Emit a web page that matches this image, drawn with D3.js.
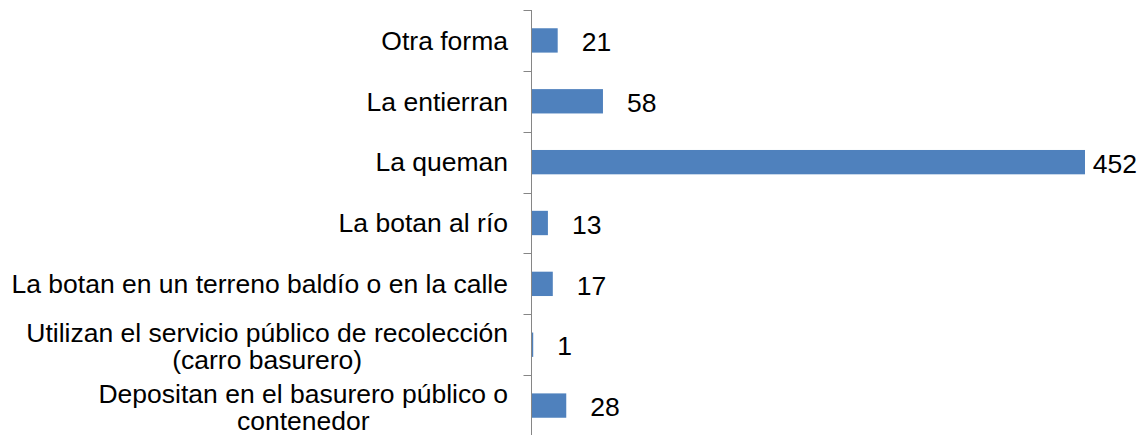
<!DOCTYPE html>
<html>
<head>
<meta charset="utf-8">
<script src="https://cdn.jsdelivr.net/npm/d3@7"></script>
<style>
  html, body { margin: 0; padding: 0; background: #fff; }
  svg { display: block; font-family: "Liberation Sans", Arial, sans-serif; }
</style>
</head>
<body>
<svg id="chart" width="1145" height="435"></svg>
<script>
// Waste disposal method, households (top to bottom)
const categories = [
  "Otra forma",
  "La entierran",
  "La queman",
  "La botan al río",
  "La botan en un terreno baldío o en la calle",
  "Utilizan el servicio público de recolección\n(carro basurero)",
  "Depositan en el basurero público o\ncontenedor"
];
const values = [21, 58, 452, 13, 17, 1, 28];

const W = 1145, H = 435;
const axisX = 531.5;
const labelRight = 508;
const fontSize = 26.5;

const svg = d3.select("#chart");

const y = d3.scaleBand()
  .domain(categories)
  .range([10, 436])
  .paddingInner(0.6)
  .paddingOuter(0.3);

const x = d3.scaleLinear()
  .domain([0, 452])
  .range([532, 1085]);

const step = y.step();

// bars
svg.append("g").selectAll("rect")
  .data(categories)
  .join("rect")
  .attr("x", x(0))
  .attr("y", d => y(d))
  .attr("width", (d, i) => Math.max(1, x(values[i]) - x(0)))
  .attr("height", y.bandwidth())
  .attr("fill", "#4F81BD");

// vertical axis with ticks on category boundaries
const axis = svg.append("g").attr("stroke", "#868686").attr("stroke-width", 1);
axis.append("line")
  .attr("x1", axisX).attr("x2", axisX)
  .attr("y1", y.range()[0]).attr("y2", y.range()[1]);
const bounds = categories.map(c => y(c) - (step - y.bandwidth()) / 2);
bounds.push(y.range()[1]);
axis.selectAll("line.tick")
  .data(bounds)
  .join("line")
  .attr("class", "tick")
  .attr("x1", axisX - 8).attr("x2", axisX)
  .attr("y1", d => Math.round(d) + 0.5).attr("y2", d => Math.round(d) + 0.5);

// category labels: wrapped lines centred within a right-aligned block
const lineH = 27;
categories.forEach(c => {
  const lines = c.split("\n");
  const cy = y(c) + y.bandwidth() / 2;
  const g = svg.append("g");
  const texts = lines.map((ln, j) => g.append("text")
    .attr("y", cy + (j - (lines.length - 1) / 2) * lineH + (lines.length > 1 ? 1.5 : 0))
    .attr("dy", "0.35em")
    .attr("font-size", fontSize)
    .attr("fill", "#000")
    .text(ln));
  const maxW = d3.max(texts, t => t.node().getComputedTextLength());
  texts.forEach(t => {
    if (lines.length > 1) {
      t.attr("text-anchor", "middle").attr("x", labelRight - maxW / 2);
    } else {
      t.attr("text-anchor", "end").attr("x", labelRight);
    }
  });
});

// value labels, kept inside the chart area
categories.forEach((c, i) => {
  const t = svg.append("text")
    .attr("y", y(c) + y.bandwidth() / 2 + 1.5)
    .attr("dy", "0.35em")
    .attr("font-size", fontSize)
    .attr("fill", "#000")
    .text(values[i]);
  const w = t.node().getComputedTextLength();
  t.attr("x", Math.min(x(values[i]) + 24, W - 8 - w));
});
</script>
</body>
</html>
